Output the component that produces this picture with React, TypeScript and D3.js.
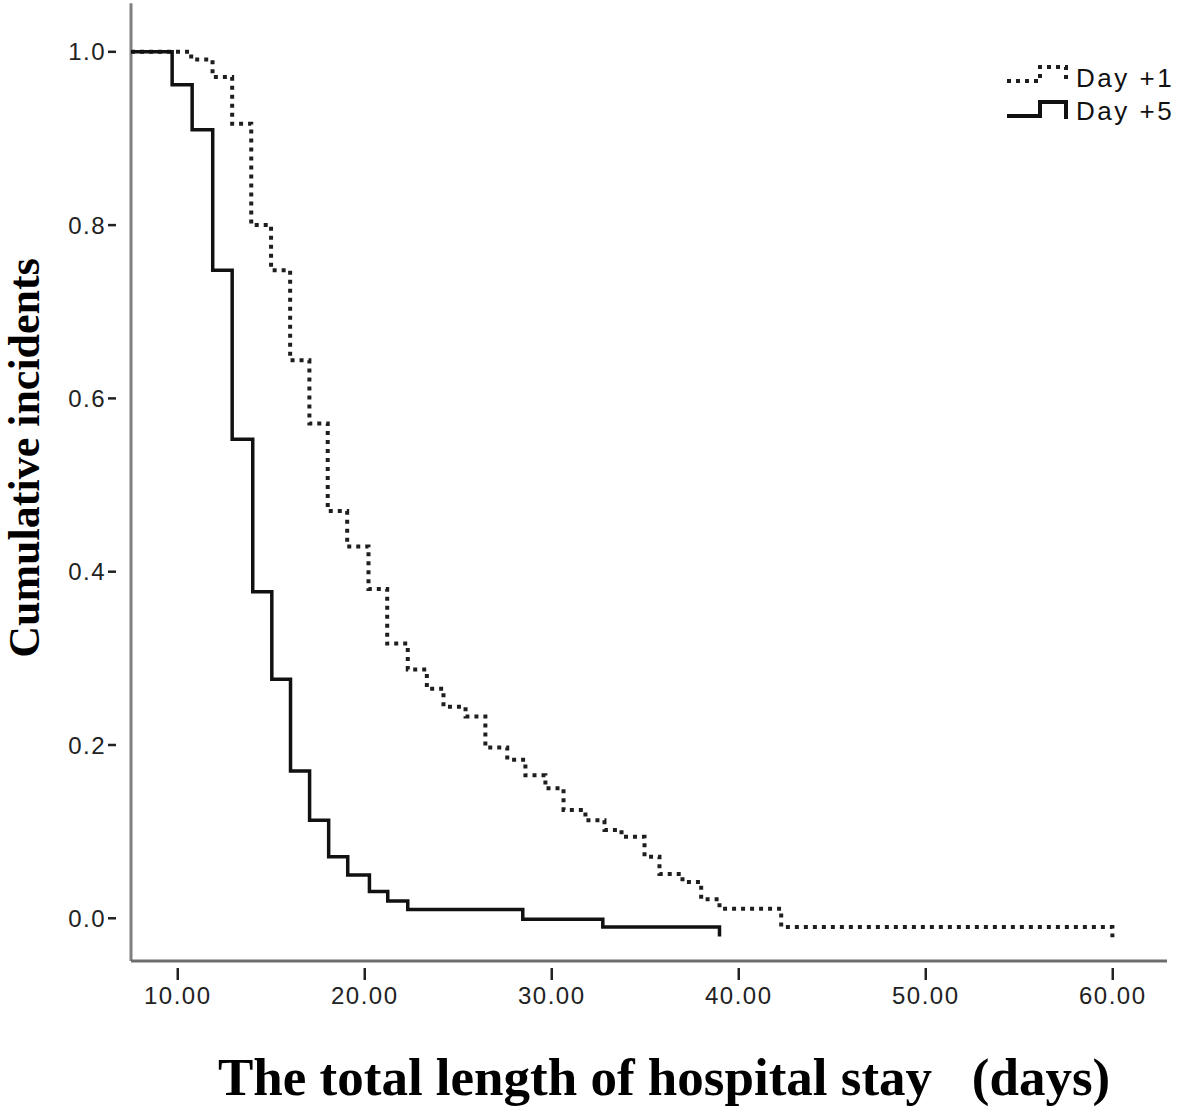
import React, { useEffect } from 'react';
import * as d3 from 'd3';

// Day +5 curve (solid): time in days, cumulative value after each step
const day5Times = [7.5, 9.7, 10.77, 11.87, 12.91, 14.01, 15.03, 16.03, 17.05, 18.07, 19.09, 20.25, 21.23, 22.3, 28.45, 32.73, 38.97];
const day5Values = [1, 0.962, 0.91, 0.748, 0.553, 0.377, 0.276, 0.17, 0.113, 0.071, 0.05, 0.031, 0.02, 0.01, -0.001, -0.01, -0.021];

// Day +1 curve (dotted)
const day1Times = [7.5, 10.72, 11.86, 12.91, 13.93, 14.99, 16.01, 17.04, 18.02, 19.06, 20.2, 21.2, 22.3, 23.32, 24.21, 25.39, 26.45, 27.62, 28.59, 29.66, 30.63, 31.8, 32.82, 33.73, 34.96, 35.76, 36.99, 37.99, 38.97, 42.27, 59.98];
const day1Values = [1, 0.991, 0.971, 0.917, 0.8, 0.748, 0.644, 0.571, 0.47, 0.429, 0.38, 0.317, 0.287, 0.265, 0.244, 0.233, 0.197, 0.183, 0.165, 0.15, 0.125, 0.113, 0.102, 0.094, 0.071, 0.051, 0.042, 0.022, 0.011, -0.01, -0.022];

const xTicks = [10, 20, 30, 40, 50, 60];
const yTicks = [0, 0.2, 0.4, 0.6, 0.8, 1.0];
const legendLabels = ['Day +1', 'Day +5'];

const W = 1181;
const H = 1107;
const sans = '"Liberation Sans", Arial, Helvetica, sans-serif';
const serif = '"Liberation Serif", "Times New Roman", Times, serif';

const App: React.FC = () => {
  useEffect(() => {
    document.body.style.margin = '0';
  }, []);

  const x = d3.scaleLinear().domain([7.5, 62.9]).range([131, 1167]);
  const y = d3.scaleLinear().domain([-0.0493, 1.056]).range([961, 3.3]);

  const line = d3.line<[number, number]>()
    .x(d => x(d[0]))
    .y(d => y(d[1]))
    .curve(d3.curveStepAfter);

  const day5 = day5Times.map((t, i) => [t, day5Values[i]] as [number, number]);
  const day1 = day1Times.map((t, i) => [t, day1Values[i]] as [number, number]);

  const [x0, x1] = x.range();
  const [yb, yt] = y.range();

  return (
    <svg width={W} height={H} style={{ display: 'block', background: '#fff' }}>
      {/* axes */}
      <line x1={x0} y1={yt} x2={x0} y2={yb} stroke="#808080" strokeWidth={3} />
      <line x1={x0} y1={yb} x2={x1} y2={yb} stroke="#6e6e6e" strokeWidth={3} />

      {/* y ticks */}
      <g fontFamily={sans} fontSize={24} letterSpacing={1.5} fill="#222">
        {yTicks.map(v => (
          <g key={v} transform={`translate(0,${y(v)})`}>
            <line x1={x0 - 23} x2={x0 - 15} stroke="#222" strokeWidth={2.5} />
            <text x={x0 - 25} dy="0.36em" textAnchor="end">{v.toFixed(1)}</text>
          </g>
        ))}
      </g>

      {/* x ticks */}
      <g fontFamily={sans} fontSize={24} letterSpacing={1.5} fill="#222">
        {xTicks.map(v => (
          <g key={v} transform={`translate(${x(v)},0)`}>
            <line y1={yb + 7} y2={yb + 19} stroke="#222" strokeWidth={2.5} />
            <text y={yb + 43} textAnchor="middle">{v.toFixed(2)}</text>
          </g>
        ))}
      </g>

      {/* curves */}
      <path d={line(day1) || ''} fill="none" stroke="#1e1e1e" strokeWidth={4} strokeDasharray="4 5" />
      <path d={line(day5) || ''} fill="none" stroke="#111" strokeWidth={3.5} />

      {/* legend */}
      <g>
        <path d="M1007,81 H1040 V67 H1066 V80" fill="none" stroke="#1e1e1e" strokeWidth={4} strokeDasharray="4 5" />
        <path d="M1007,116 H1040 V102 H1066 V119" fill="none" stroke="#111" strokeWidth={4} />
        {legendLabels.map((l, i) => (
          <text key={l} x={1076} y={87 + i * 33} fontFamily={sans} fontSize={26} letterSpacing={2.5} fill="#111">{l}</text>
        ))}
      </g>

      {/* axis titles */}
      <text x={218} y={1095} fontFamily={serif} fontWeight="bold" fontSize={53} fill="#000" style={{ whiteSpace: 'pre' }}>
        {'The total length of hospital stay   (days)'}
      </text>
      <text transform="translate(39,458) rotate(-90)" textAnchor="middle" fontFamily={serif} fontWeight="bold" fontSize={44} fill="#000">
        Cumulative incidents
      </text>
    </svg>
  );
};

export default App;
